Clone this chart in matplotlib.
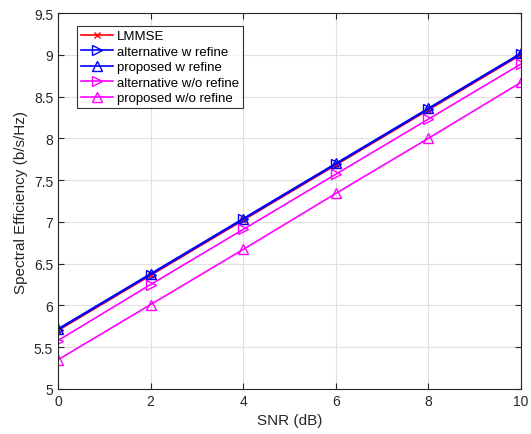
import matplotlib
matplotlib.use("Agg")
import matplotlib.pyplot as plt

snr = [0, 2, 4, 6, 8, 10]
lmmse = [5.70, 6.36, 7.02, 7.68, 8.34, 9.00]
alt_w = [5.71, 6.37, 7.03, 7.69, 8.35, 9.01]
prop_w = [5.72, 6.38, 7.04, 7.70, 8.36, 9.02]
alt_wo = [5.58, 6.25, 6.91, 7.57, 8.23, 8.89]
prop_wo = [5.35, 6.01, 6.67, 7.34, 8.00, 8.67]
labels = ["LMMSE", "alternative w refine", "proposed w refine",
          "alternative w/o refine", "proposed w/o refine"]

plt.rcParams['font.family'] = ['Liberation Sans', 'DejaVu Sans']
fig = plt.figure(figsize=(5.31, 4.35), dpi=100)
ax = fig.add_axes([58/531, 45/435, 463/531, 376/435])

ax.plot(snr, lmmse, color='red', marker='x', ms=5, lw=1.2, label=labels[0])
ax.plot(snr, alt_w, color='blue', marker='>', ms=7, mfc='none', lw=1.2, label=labels[1])
ax.plot(snr, prop_w, color='blue', marker='^', ms=7, mfc='none', lw=1.2, label=labels[2])
ax.plot(snr, alt_wo, color='magenta', marker='>', ms=7, mfc='none', lw=1.2, label=labels[3])
ax.plot(snr, prop_wo, color='magenta', marker='^', ms=7, mfc='none', lw=1.2, label=labels[4])

ax.set_xlim(0, 10)
ax.set_ylim(5, 9.5)
ax.set_xticks(snr)
ax.set_yticks([5, 5.5, 6, 6.5, 7, 7.5, 8, 8.5, 9, 9.5])
ax.set_yticklabels(['5', '5.5', '6', '6.5', '7', '7.5', '8', '8.5', '9', '9.5'])
ax.grid(True, color='#e0e0e0', lw=0.8)
ax.set_axisbelow(True)
ax.tick_params(direction='in', labelsize=10, colors='#262626', top=True, right=True, length=4)
for s in ax.spines.values():
    s.set_color('#262626')
    s.set_linewidth(0.8)
ax.set_xlabel('SNR (dB)', fontsize=11, color='#262626')
ax.set_ylabel('Spectral Efficiency (b/s/Hz)', fontsize=11, color='#262626')

leg = ax.legend(loc='upper left', bbox_to_anchor=(0.041, 0.965), fontsize=9.5,
                frameon=True, fancybox=False, edgecolor='black',
                handlelength=2.4, handletextpad=0.3, labelspacing=0.25,
                borderpad=0.3, borderaxespad=0)
leg.get_frame().set_linewidth(0.8)

fig.savefig('out.png', dpi=100)
